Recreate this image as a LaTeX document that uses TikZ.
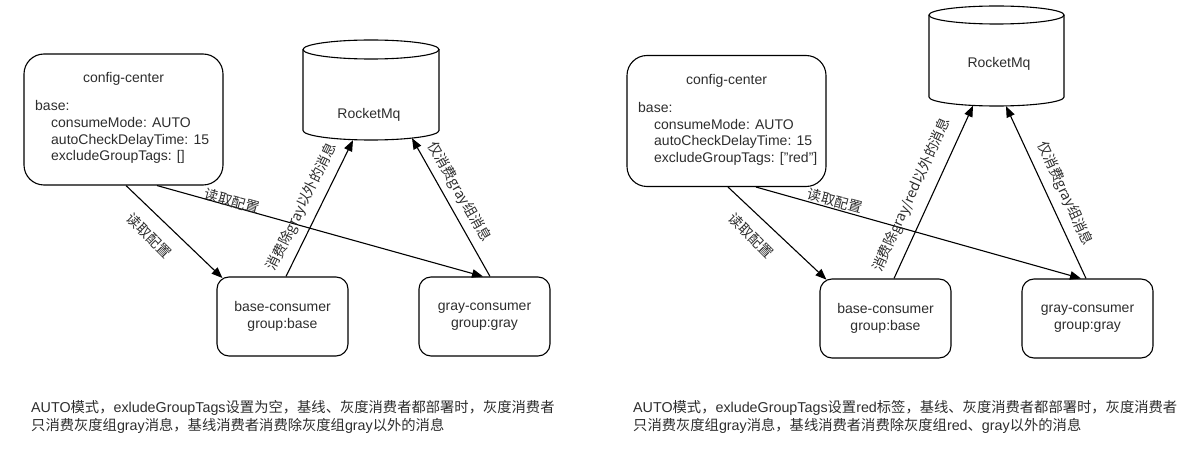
\documentclass[tikz,border=0pt]{standalone}
\usepackage{fontspec}
\setmainfont{Liberation Sans}
\newfontfamily\cjk{Noto Sans CJK SC}
\usetikzlibrary{arrows.meta}
\definecolor{txtc}{RGB}{45,45,45}
\begin{document}
\begin{tikzpicture}[x=1pt,y=-1pt,
  box/.style={draw, line width=1.1pt, rounded corners=12pt, inner sep=0pt, text=txtc, align=center, font=\fontsize{14}{17}\selectfont},
  bigbox/.style={box, rounded corners=20pt, minimum width=199pt, minimum height=131pt},
  cbox/.style={box, minimum width=131pt, minimum height=79pt},
  t/.style={text=txtc, font=\fontsize{14}{17}\selectfont, inner sep=0pt},
  bt/.style={text=txtc, font=\fontsize{14.3}{17}\selectfont, inner sep=0pt, anchor=base west},
  lab/.style={text=txtc, font=\cjk\fontsize{14}{17}\selectfont, inner sep=0pt},
  conn/.style={draw, line width=1.1pt, -{Triangle[length=11pt,width=8.5pt]}},
  cyl/.style={draw, line width=1.1pt}
]
\useasboundingbox (0,0) rectangle (1202,457);

% ================= LEFT =================
\node[bigbox] (cc) at (123.5,119.5) {};
\node[t, anchor=base] (cct) at (123.5,83) {config-center};
\node[t, anchor=base west] (ccb) at (35,111) {base:};
\node[t, anchor=base west] (cca) at (51,128) {consumeMode: AUTO};
\node[t, anchor=base west] (ccc) at (51,144.5) {autoCheckDelayTime: 15};
\node[t, anchor=base west] (ccd) at (51,161) {excludeGroupTags: []};

\node[cbox] (bc) at (282.5,316.5) {base-consumer\\group:base};
\node[cbox] (gc) at (484.5,316.5) {gray-consumer\\group:gray};

\node[minimum width=136pt, minimum height=100pt, inner sep=0pt] (mq) at (371,90) {};
\draw[cyl] (371,49.5) ellipse [x radius=68pt, y radius=9.5pt];
\draw[cyl] (303,49.5) -- (303,130.5) arc[start angle=180, end angle=360, x radius=68pt, y radius=9.5pt] -- (439,49.5);
\node[t] (mqt) at (369,115) {RocketMq};

\draw[conn] ([xshift=2.5pt]cc.south) -- ([xshift=6pt,yshift=-1.6pt]bc.north west);
\draw[conn] ([xshift=33.5pt]cc.south) -- ([xshift=-1.5pt]gc.north);
\draw[conn] ([xshift=3.5pt]bc.north) -- ([xshift=-18pt]mq.south);
\draw[conn] ([xshift=5.5pt]gc.north) -- ([xshift=41pt,yshift=2pt]mq.south);

\node[lab, rotate=-45] (l1) at (149,236) {读取配置};
\node[lab, rotate=-15.6] (l2) at (232,201) {读取配置};
\node[lab, rotate=63.9] (l3) at (302,207) {消费除gray以外的消息};
\node[lab, rotate=-60.2] (l4) at (459,192) {仅消费gray组消息};

\node[bt] (n1) at (31,412) {AUTO{\cjk 模式，}exludeGroupTags{\cjk 设置为空，基线、灰度消费者都部署时，灰度消费者}};
\node[bt] (n2) at (31,430) {{\cjk 只消费灰度组}gray{\cjk 消息，基线消费者消费除灰度组}gray{\cjk 以外的消息}};

% ================= RIGHT =================
\node[bigbox] (rc) at (726.5,121) {};
\node[t, anchor=base] (rct) at (726.5,84.5) {config-center};
\node[t, anchor=base west] (rcb) at (638,112.5) {base:};
\node[t, anchor=base west] (rca) at (654,129.5) {consumeMode: AUTO};
\node[t, anchor=base west] (rcc) at (654,146) {autoCheckDelayTime: 15};
\node[t, anchor=base west] (rcd) at (654,162.5) {excludeGroupTags: ["red"]};

\node[cbox] (rb) at (885.5,318.5) {base-consumer\\group:base};
\node[cbox] (rg) at (1087.5,318.5) {gray-consumer\\group:gray};

\node[minimum width=135pt, minimum height=100pt, inner sep=0pt] (rq) at (996.5,56) {};
\draw[cyl] (996.5,15) ellipse [x radius=67.5pt, y radius=9pt];
\draw[cyl] (929,15) -- (929,97) arc[start angle=180, end angle=360, x radius=67.5pt, y radius=9pt] -- (1064,15);
\node[t] (rqt) at (999,64) {RocketMq};

\draw[conn] ([xshift=1.5pt]rc.south) -- ([xshift=7pt,yshift=-1.2pt]rb.north west);
\draw[conn] ([xshift=29.5pt]rc.south) -- ([xshift=-6.5pt]rg.north);
\draw[conn] ([xshift=8.5pt]rb.north) -- ([xshift=-23.5pt,yshift=0.5pt]rq.south);
\draw[conn] ([xshift=-1.5pt]rg.north) -- ([xshift=9.5pt]rq.south);

\node[lab, rotate=-45] (r1) at (751,236) {读取配置};
\node[lab, rotate=-14.9] (r2) at (835,201) {读取配置};
\node[lab, rotate=65.5] (r3) at (912,195) {消费除gray/red以外的消息};
\node[lab, rotate=-65.2] (r4) at (1065,194) {仅消费gray组消息};

\node[bt] (m1) at (633,412) {AUTO{\cjk 模式，}exludeGroupTags{\cjk 设置}red{\cjk 标签，基线、灰度消费者都部署时，灰度消费者}};
\node[bt] (m2) at (633,430) {{\cjk 只消费灰度组}gray{\cjk 消息，基线消费者消费除灰度组}red{\cjk 、}gray{\cjk 以外的消息}};
\end{tikzpicture}
\end{document}
